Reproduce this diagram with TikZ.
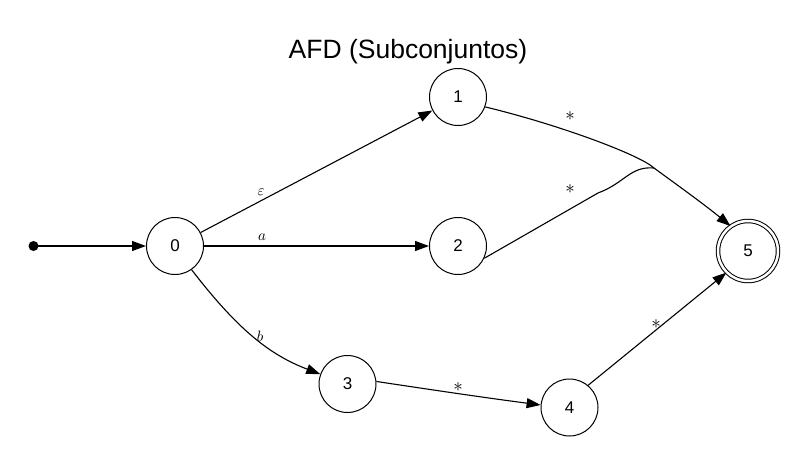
\documentclass[tikz,border=0pt]{standalone}
\usepackage{fontspec}
\setsansfont{Liberation Sans}
\usetikzlibrary{arrows.meta}
\begin{document}
\begin{tikzpicture}[x=1pt,y=-1pt,
  state/.style={circle,draw,line width=1pt,minimum size=57pt,inner sep=0pt,font=\sffamily\fontsize{17}{17}\selectfont},
  accstate/.style={state,double,double distance=2.5pt,minimum size=60pt},
  edge/.style={line width=1.1pt,-{Triangle[length=14pt,width=10pt]}},
  plain/.style={line width=1.1pt},
  elab/.style={font=\fontsize{10}{10}\selectfont,inner sep=1pt,scale=1.5,transform shape},
  slab/.style={font=\fontsize{10}{10}\selectfont,inner sep=1pt,scale=1.9,transform shape}]
\useasboundingbox (0,0) rectangle (812,466);
\node[font=\sffamily\fontsize{26.5}{26.5}\selectfont] (title) at (408,52) {AFD (Subconjuntos)};
\fill (33.5,246) circle (5pt);
\coordinate (start) at (33.5,246);
\node[state] (n0) at (175,246) {0};
\node[state] (n1) at (458,97) {1};
\node[state] (n2) at (458,246) {2};
\node[state] (n3) at (347.5,384) {3};
\node[state] (n4) at (569.5,407.5) {4};
\node[accstate] (n5) at (748,251) {5};
\coordinate (m) at (654,168);
\draw[edge] (start) -- (n0);
\draw[edge] (n0) -- (n1);
\draw[edge] (n0) -- (n2);
\draw[edge] (n0.-55) .. controls (238,330) and (270,355) .. (n3.160);
\draw[edge] (n3.5) .. controls (440,391) and (480,397) .. (n4.175);
\draw[edge] (n4.50) -- (n5.-135);
\draw[edge] (n1.-20) .. controls (560,125) and (640,155) .. (m) .. controls (680,187) and (705,205) .. (n5.125);
\draw[plain] (n2.-25) -- (598,193) .. controls (625,183) and (630,166) .. (m);
\node[elab] (l0) at (261,192) {$\varepsilon$};
\node[elab] (l1) at (262,237) {$a$};
\node[elab] (l2) at (260,336) {$b$};
\node[slab] (l3) at (570,116) {$\ast$};
\node[slab] (l4) at (570,189) {$\ast$};
\node[slab] (l5) at (458,387) {$\ast$};
\node[slab] (l6) at (656,324) {$\ast$};
\end{tikzpicture}
\end{document}
